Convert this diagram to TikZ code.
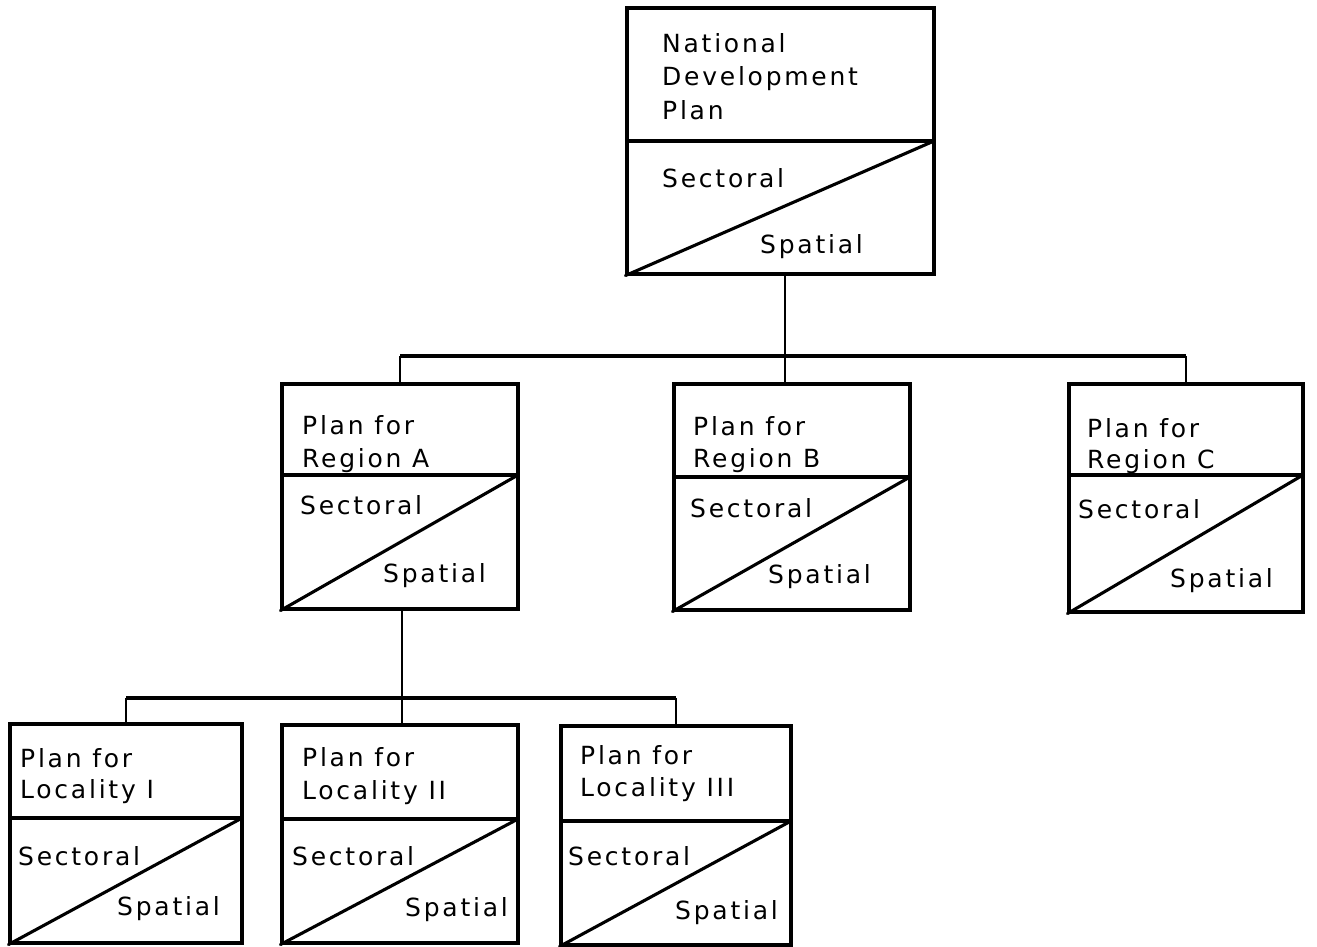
\documentclass[tikz,border=0pt]{standalone}
\usepackage{fontspec}
\newfontfamily\plansans[LetterSpace=11]{DejaVu Sans}
\begin{document}
\begin{tikzpicture}[x=1pt,y=-1pt,
  frame/.style={draw, line width=3.1pt, rectangle, inner sep=0pt, line join=miter},
  rule/.style={line width=3.1pt},
  bus/.style={line width=3.1pt},
  drop/.style={line width=2.1pt},
  lbl/.style={inner sep=0pt, anchor=base west,
              font=\plansans\fontsize{25}{33}\selectfont}]
\useasboundingbox (0,0) rectangle (1317,947);

% #1 name, #2 left, #3 top, #4 right, #5 bottom, #6 divider height
\newcommand\planframe[6]{%
  \node[frame, minimum width={(#4-#2)*1pt}, minimum height={(#5-#3)*1pt}]
    (#1) at ({(#2+#4)/2},{(#3+#5)/2}) {};
  \coordinate (#1-dl) at (#2,#6);
  \coordinate (#1-dr) at (#4,#6);
  \draw[rule] (#1-dl) -- (#1-dr);
  \draw[rule, line cap=round] (#1.south west) -- (#1-dr);
}

% National level
\planframe{N}{627}{8}{934}{274}{141}
\node[lbl] (N-t1) at (662,53) {National};
\node[lbl] (N-t2) at (662,86) {Development};
\node[lbl] (N-t3) at (662,120) {Plan};
\node[lbl] (N-sec) at (662,187) {Sectoral};
\node[lbl] (N-spa) at (760,253) {Spatial};

% Regional level
\planframe{A}{282}{384}{518}{609}{475}
\node[lbl] (A-t1) at (302,434) {Plan for};
\node[lbl] (A-t2) at (302,467) {Region A};
\node[lbl] (A-sec) at (300,514) {Sectoral};
\node[lbl] (A-spa) at (383,582) {Spatial};

\planframe{B}{674}{384}{910}{610}{477}
\node[lbl] (B-t1) at (693,435) {Plan for};
\node[lbl] (B-t2) at (693,467) {Region B};
\node[lbl] (B-sec) at (690,517) {Sectoral};
\node[lbl] (B-spa) at (768,583) {Spatial};

\planframe{C}{1069}{384}{1303}{612}{475}
\node[lbl] (C-t1) at (1087,437) {Plan for};
\node[lbl] (C-t2) at (1087,468) {Region C};
\node[lbl] (C-sec) at (1078,518) {Sectoral};
\node[lbl] (C-spa) at (1170,587) {Spatial};

% Local level
\planframe{L1}{10}{724}{242}{943}{818}
\node[lbl] (L1-t1) at (20,767) {Plan for};
\node[lbl] (L1-t2) at (20,798) {Locality I};
\node[lbl] (L1-sec) at (18,865) {Sectoral};
\node[lbl] (L1-spa) at (117,915) {Spatial};

\planframe{L2}{282}{725}{518}{943}{819}
\node[lbl] (L2-t1) at (302,766) {Plan for};
\node[lbl] (L2-t2) at (302,799) {Locality II};
\node[lbl] (L2-sec) at (292,865) {Sectoral};
\node[lbl] (L2-spa) at (405,916) {Spatial};

\planframe{L3}{561}{726}{791}{945}{821}
\node[lbl] (L3-t1) at (580,764) {Plan for};
\node[lbl] (L3-t2) at (580,796) {Locality III};
\node[lbl] (L3-sec) at (568,865) {Sectoral};
\node[lbl] (L3-spa) at (675,919) {Spatial};

% Connectors: national to regions
\coordinate (j1) at (785,356);
\draw[drop] (j1 |- N.south) -- (j1);
\draw[bus] (A.north |- j1) -- (C.north |- j1);
\draw[drop] (A.north |- j1) -- (A.north);
\draw[drop] (j1) -- (j1 |- B.north);
\draw[drop] (C.north |- j1) -- (C.north);

% Connectors: region A to localities
\coordinate (j2) at (402,698);
\draw[drop] (j2 |- A.south) -- (j2);
\draw[bus] (L1.north |- j2) -- (L3.north |- j2);
\draw[drop] (L1.north |- j2) -- (L1.north);
\draw[drop] (j2) -- (j2 |- L2.north);
\draw[drop] (L3.north |- j2) -- (L3.north);
\end{tikzpicture}
\end{document}
